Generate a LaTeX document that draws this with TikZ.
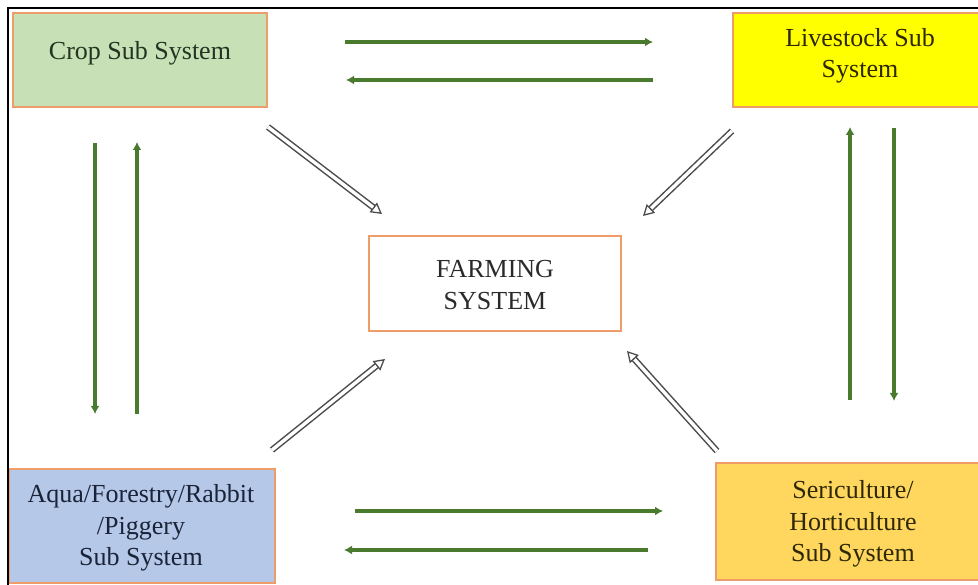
\documentclass[tikz,border=0pt]{standalone}
\usepackage{fontspec}
\setmainfont{Liberation Serif}
\usetikzlibrary{arrows.meta}
\definecolor{boxorange}{HTML}{EE9D6A}
\definecolor{cropgreen}{HTML}{C7E0B5}
\definecolor{lsyellow}{HTML}{FFFF00}
\definecolor{aquablue}{HTML}{B5C8E8}
\definecolor{serigold}{HTML}{FFD75E}
\definecolor{arrowgreen}{HTML}{4A7A2E}
\definecolor{txtgreen}{HTML}{243422}
\definecolor{txtbrown}{HTML}{2E2806}
\definecolor{txtblue}{HTML}{1A2338}
\definecolor{txtgray}{HTML}{2A2A2A}
\tikzset{
  subbox/.style={draw=boxorange, line width=2pt, rectangle, inner sep=0pt},
  lbl/.style={font=\fontsize{26}{31.5}\selectfont, align=center, inner sep=0pt},
  flow/.style={draw=arrowgreen, line width=4pt, -{Latex[length=8pt,width=9pt]}},
  feed/.style={draw=black!70, double=white, double distance=3.4pt, line width=1.5pt,
               -{Triangle[open,length=11pt,width=12pt,line width=1.3pt]}}
}
\begin{document}
\begin{tikzpicture}[x=1pt,y=-1pt]
\useasboundingbox (0,0) rectangle (978,585);
% boxes
\node[subbox, fill=cropgreen, minimum width=254pt, minimum height=94pt] (crop) at (140,60) {};
\node[lbl, text=txtgreen] (cropT) at (140,53) {Crop Sub System};
\node[subbox, fill=lsyellow, minimum width=250pt, minimum height=94pt] (live) at (858,60) {};
\node[lbl, text=txtbrown] (liveT) at (860,56) {Livestock Sub\\System};
\node[subbox, fill=white, minimum width=252pt, minimum height=95pt] (farm) at (495,283.5) {};
\node[lbl, text=txtgray] (farmT) at (495,285) {FARMING\\SYSTEM};
\node[subbox, fill=aquablue, minimum width=266pt, minimum height=114pt] (aqua) at (142,526) {};
\node[lbl, text=txtblue] (aquaT) at (141,528) {Aqua/Forestry/Rabbit\\/Piggery\\Sub System};
\node[subbox, fill=serigold, minimum width=264pt, minimum height=117pt] (seri) at (848,521.5) {};
\node[lbl, text=txtbrown] (seriT) at (853,524) {Sericulture/\\Horticulture\\Sub System};
% frame
\draw[line width=1.5pt] (8,585) -- (8,8) -- (978,8);
% green flow arrows
\coordinate (t1a) at (345,42); \coordinate (t1b) at (653,42);
\coordinate (t2a) at (653,80); \coordinate (t2b) at (346,80);
\coordinate (b1a) at (355,511); \coordinate (b1b) at (663,511);
\coordinate (b2a) at (648,550); \coordinate (b2b) at (344,550);
\coordinate (l1a) at (95,143); \coordinate (l1b) at (95,414);
\coordinate (l2a) at (137,414); \coordinate (l2b) at (137,142);
\coordinate (r1a) at (850,400); \coordinate (r1b) at (850,127);
\coordinate (r2a) at (894,128); \coordinate (r2b) at (894,401);
\draw[flow] (t1a) -- (t1b);
\draw[flow] (t2a) -- (t2b);
\draw[flow] (b1a) -- (b1b);
\draw[flow] (b2a) -- (b2b);
\draw[flow] (l1a) -- (l1b);
\draw[flow] (l2a) -- (l2b);
\draw[flow] (r1a) -- (r1b);
\draw[flow] (r2a) -- (r2b);
% hollow arrows to the farming system
\coordinate (d1a) at (268,127); \coordinate (d1b) at (382,214);
\coordinate (d2a) at (732,131); \coordinate (d2b) at (643,216);
\coordinate (d3a) at (272,450); \coordinate (d3b) at (385,359);
\coordinate (d4a) at (717,451); \coordinate (d4b) at (627,351);
\draw[feed] (d1a) -- (d1b);
\draw[feed] (d2a) -- (d2b);
\draw[feed] (d3a) -- (d3b);
\draw[feed] (d4a) -- (d4b);
\end{tikzpicture}
\end{document}
